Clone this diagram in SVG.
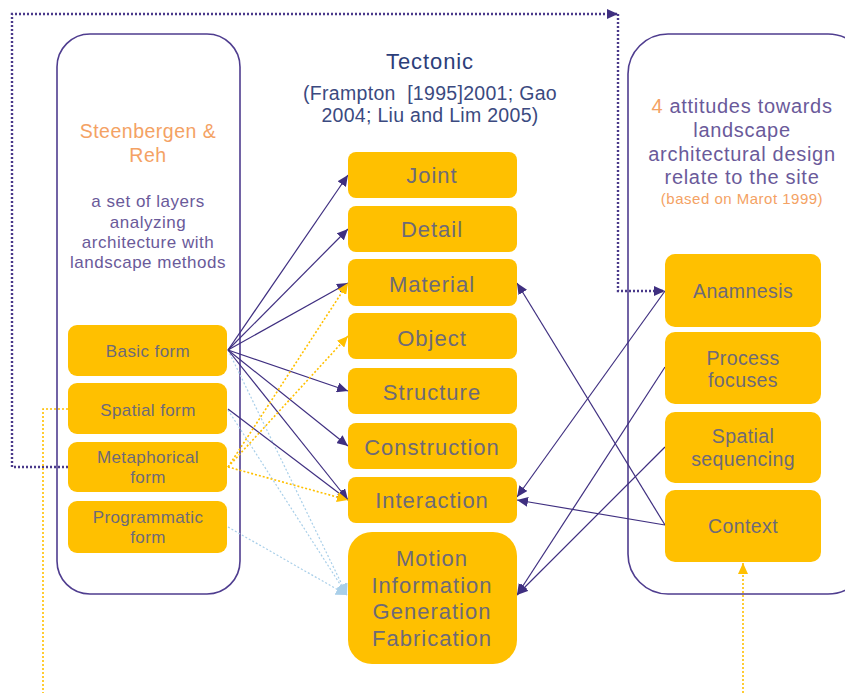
<svg xmlns="http://www.w3.org/2000/svg" width="845" height="693" viewBox="0 0 845 693">
<style>
.cont{fill:none;stroke:#4f3d8f;stroke-width:1.6}
.node{fill:#FFC000}
.nt{font-family:"Liberation Sans",Arial,sans-serif;fill:#6e6a78;text-anchor:middle}
.c{font-size:22px;letter-spacing:1px}
.l{font-size:17px;letter-spacing:0.4px}
.r{font-size:19.5px;letter-spacing:0.4px}
.s{stroke:#3f2f80;stroke-width:1.2;fill:none}
.od{stroke:#FFC000;stroke-width:1.6;stroke-dasharray:2 2;fill:none}
.pd{stroke:#4a3a8a;stroke-width:2.4;stroke-dasharray:2 2;fill:none}
.bd{stroke:#a9cfe9;stroke-width:1.2;stroke-dasharray:2 2;fill:none}
.ttl{font-family:"Liberation Sans",Arial,sans-serif;text-anchor:middle}
</style>
<defs>
<marker id="ap" markerUnits="userSpaceOnUse" markerWidth="12" markerHeight="10" refX="11" refY="5" orient="auto"><path d="M0,0 L11,5 L0,10 z" fill="#3f2f80"/></marker>
<marker id="ao" markerUnits="userSpaceOnUse" markerWidth="12" markerHeight="10" refX="11" refY="5" orient="auto"><path d="M0,0 L11,5 L0,10 z" fill="#FFC000"/></marker>
<marker id="ab" markerUnits="userSpaceOnUse" markerWidth="12" markerHeight="12" refX="11" refY="6" orient="auto"><path d="M0,0 L11,6 L0,12 z" fill="#a9cfe9"/></marker>
</defs>

<g id="left-container">
<rect class="cont" x="57" y="34" width="183" height="560" rx="33"/>
<text class="ttl" x="148" y="138" font-size="19.5" letter-spacing="0.5" fill="#f4a264">Steenbergen &amp;</text>
<text class="ttl" x="148" y="162" font-size="19.5" letter-spacing="0.5" fill="#f4a264">Reh</text>
<text class="ttl" x="148" y="207" font-size="17" letter-spacing="0.5" fill="#6a5a9a">a set of layers</text>
<text class="ttl" x="148" y="228" font-size="17" letter-spacing="0.5" fill="#6a5a9a">analyzing</text>
<text class="ttl" x="148" y="248" font-size="17" letter-spacing="0.5" fill="#6a5a9a">architecture with</text>
<text class="ttl" x="148" y="268" font-size="17" letter-spacing="0.5" fill="#6a5a9a">landscape methods</text>
</g>

<g id="right-container">
<rect class="cont" x="628" y="34" width="240" height="560" rx="40"/>
<text class="ttl" x="742" y="113" font-size="20" letter-spacing="0.7" fill="#6a5a9a"><tspan fill="#f4a264">4</tspan> attitudes towards</text>
<text class="ttl" x="742" y="137" font-size="20" letter-spacing="0.7" fill="#6a5a9a">landscape</text>
<text class="ttl" x="742" y="161" font-size="20" letter-spacing="0.7" fill="#6a5a9a">architectural design</text>
<text class="ttl" x="742" y="184" font-size="20" letter-spacing="0.7" fill="#6a5a9a">relate to the site</text>
<text class="ttl" x="742" y="204" font-size="15" letter-spacing="0.5" fill="#f4a264">(based on Marot 1999)</text>
</g>

<g id="tectonic-title">
<text class="ttl" x="430" y="69" font-size="22" letter-spacing="0.9" fill="#2c3e7a">Tectonic</text>
<text class="ttl" x="430" y="100" font-size="19.5" letter-spacing="0.3" fill="#3b4a80" xml:space="preserve">(Frampton  [1995]2001; Gao</text>
<text class="ttl" x="430" y="122" font-size="19.5" letter-spacing="0.3" fill="#3b4a80">2004; Liu and Lim 2005)</text>
</g>

<g id="connectors">
<path class="pd" d="M68,467 H12 V14 H618" marker-end="url(#ap)"/>
<path class="pd" d="M618,14 V291 H665" marker-end="url(#ap)"/>
<path class="od" d="M68,409 H43 V693"/>
<path class="od" d="M743,693 V563" marker-end="url(#ao)"/>

<line class="bd" x1="228" y1="350" x2="347" y2="595" marker-end="url(#ab)"/>
<line class="bd" x1="228" y1="410" x2="347" y2="595" marker-end="url(#ab)"/>
<line class="bd" x1="228" y1="527" x2="347" y2="595" marker-end="url(#ab)"/>

<line class="s" x1="228" y1="350" x2="348" y2="175" marker-end="url(#ap)"/>
<line class="s" x1="228" y1="350" x2="348" y2="229" marker-end="url(#ap)"/>
<line class="s" x1="228" y1="350" x2="348" y2="283" marker-end="url(#ap)"/>
<line class="s" x1="228" y1="350" x2="348" y2="391" marker-end="url(#ap)"/>
<line class="s" x1="228" y1="350" x2="348" y2="446" marker-end="url(#ap)"/>
<line class="s" x1="228" y1="350" x2="348" y2="500" marker-end="url(#ap)"/>
<line class="s" x1="228" y1="409" x2="348" y2="500" marker-end="url(#ap)"/>

<line class="od" x1="228" y1="467" x2="348" y2="283" marker-end="url(#ao)"/>
<line class="od" x1="228" y1="467" x2="348" y2="336" marker-end="url(#ao)"/>
<line class="od" x1="228" y1="467" x2="348" y2="500" marker-end="url(#ao)"/>

<line class="s" x1="665" y1="525" x2="517" y2="283" marker-end="url(#ap)"/>
<line class="s" x1="665" y1="525" x2="517" y2="500" marker-end="url(#ap)"/>
<line class="s" x1="665" y1="291" x2="517" y2="497" marker-end="url(#ap)"/>
<line class="s" x1="665" y1="367" x2="517" y2="595" marker-end="url(#ap)"/>
<line class="s" x1="665" y1="447" x2="517" y2="595" marker-end="url(#ap)"/>
</g>

<g id="basic-form"><rect class="node" x="68" y="325" width="159" height="51" rx="9"/><text class="nt l" x="148" y="357">Basic form</text></g>
<g id="spatial-form"><rect class="node" x="68" y="383" width="159" height="51" rx="9"/><text class="nt l" x="148" y="416">Spatial form</text></g>
<g id="metaphorical-form"><rect class="node" x="68" y="442" width="159" height="50" rx="9"/><text class="nt l" x="148" y="463">Metaphorical</text><text class="nt l" x="148" y="483">form</text></g>
<g id="programmatic-form"><rect class="node" x="68" y="501" width="159" height="52" rx="9"/><text class="nt l" x="148" y="523">Programmatic</text><text class="nt l" x="148" y="543">form</text></g>

<g id="joint"><rect class="node" x="348" y="152" width="169" height="46" rx="8"/><text class="nt c" x="432" y="183">Joint</text></g>
<g id="detail"><rect class="node" x="348" y="206" width="169" height="46" rx="8"/><text class="nt c" x="432" y="237">Detail</text></g>
<g id="material"><rect class="node" x="348" y="259" width="169" height="47" rx="8"/><text class="nt c" x="432" y="292">Material</text></g>
<g id="object"><rect class="node" x="348" y="313" width="169" height="46" rx="8"/><text class="nt c" x="432" y="346">Object</text></g>
<g id="structure"><rect class="node" x="348" y="368" width="169" height="46" rx="8"/><text class="nt c" x="432" y="400">Structure</text></g>
<g id="construction"><rect class="node" x="348" y="423" width="169" height="46" rx="8"/><text class="nt c" x="432" y="455">Construction</text></g>
<g id="interaction"><rect class="node" x="348" y="477" width="169" height="46" rx="8"/><text class="nt c" x="432" y="508">Interaction</text></g>
<g id="motion"><rect class="node" x="348" y="532" width="169" height="132" rx="24"/>
<text class="nt c" x="432" y="566">Motion</text>
<text class="nt c" x="432" y="593">Information</text>
<text class="nt c" x="432" y="619">Generation</text>
<text class="nt c" x="432" y="646">Fabrication</text></g>

<g id="anamnesis"><rect class="node" x="665" y="254" width="156" height="73" rx="10"/><text class="nt r" x="743" y="298">Anamnesis</text></g>
<g id="process-focuses"><rect class="node" x="665" y="332" width="156" height="72" rx="10"/><text class="nt r" x="743" y="365">Process</text><text class="nt r" x="743" y="387">focuses</text></g>
<g id="spatial-sequencing"><rect class="node" x="665" y="412" width="156" height="71" rx="10"/><text class="nt r" x="743" y="443">Spatial</text><text class="nt r" x="743" y="466">sequencing</text></g>
<g id="context"><rect class="node" x="665" y="490" width="156" height="72" rx="10"/><text class="nt r" x="743" y="533">Context</text></g>
</svg>
